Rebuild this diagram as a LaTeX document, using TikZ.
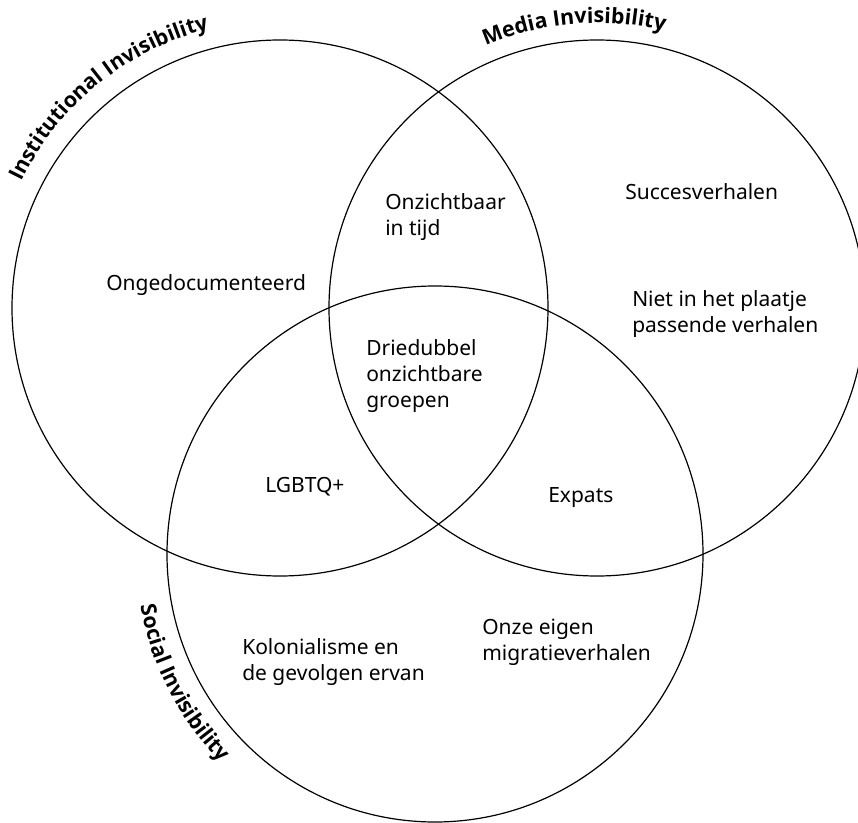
\documentclass[tikz,border=0pt]{standalone}
\usepackage{fontspec}
\setmainfont{Noto Sans}
\newfontfamily\headfont{Open Sans}
\usetikzlibrary{decorations.text}

\begin{document}
\begin{tikzpicture}[x=0.75pt,y=0.75pt,
	venn/.style={line width=0.9pt},
	item/.style={anchor=base west,inner sep=0pt,align=left,font=\fontsize{15.75}{19.5}\selectfont},
	arclabel/.style={decorate,decoration={text along path,text align=left,
		text={|\fontsize{16}{18}\headfont\bfseries|#1}}}]
	\useasboundingbox (0,0) rectangle (858,-823);
	
	%Centres of the three circles
	\coordinate (inst) at (280,-308);
	\coordinate (media) at (597,-308);
	\coordinate (social) at (435,-554);
	
	%Shape: Circles
	\draw [venn] (inst) circle [radius=268];
	\draw [venn] (media) circle [radius=268];
	\draw [venn] (social) circle [radius=268];
	
	%Curved titles
	\path [arclabel={Institutional Invisibility}] (inst) ++(154:288) arc (154:85:288);
	\path [arclabel={Media Invisibility}] (media) ++(113:285) arc (113:55:285);
	\path [arclabel={Social Invisibility}] (social) ++(190:299) arc (190:250:299);
	
	% Text Node (multi-line nodes sit on their last line)
	\node [item] (ongedoc) at (106,-291) {Ongedocumenteerd};
	% Text Node
	\node [item] (tijd) at (385,-236) {Onzichtbaar\\in tijd};
	% Text Node
	\node [item] (succes) at (625,-200) {Succesverhalen};
	% Text Node
	\node [item] (plaatje) at (632,-333) {Niet in het plaatje\\passende verhalen};
	% Text Node
	\node [item] (driedubbel) at (366,-408) {Driedubbel\\onzichtbare\\groepen};
	% Text Node
	\node [item] (lgbtq) at (265,-493) {LGBTQ+};
	% Text Node
	\node [item] (expats) at (548,-503) {Expats};
	% Text Node
	\node [item] (koloniaal) at (242,-681) {Kolonialisme en\\de gevolgen ervan};
	% Text Node
	\node [item] (migratie) at (482,-661) {Onze eigen\\migratieverhalen};
	
\end{tikzpicture}
\end{document}
